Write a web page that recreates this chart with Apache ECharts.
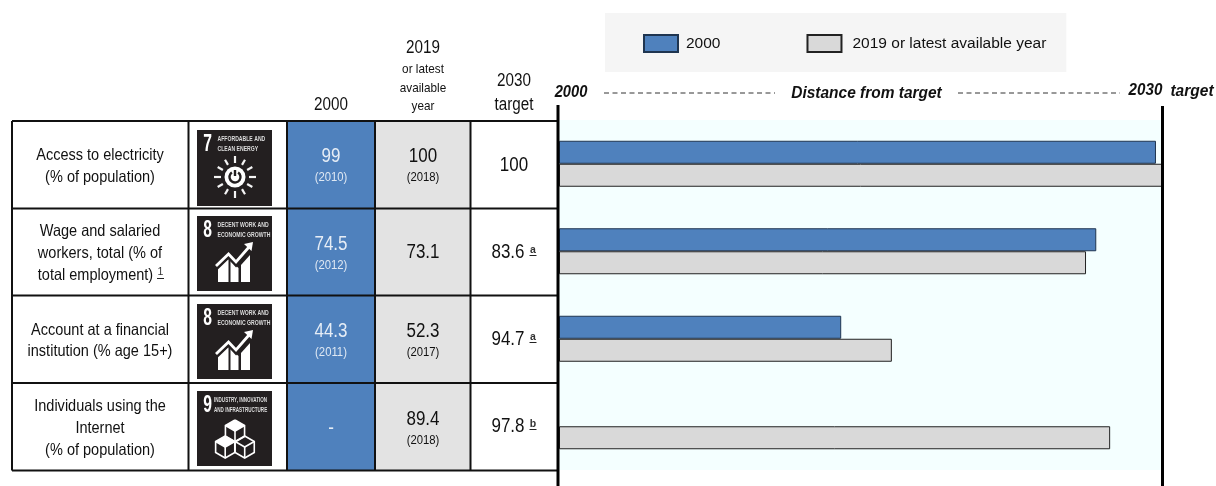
<!DOCTYPE html>
<html><head><meta charset="utf-8">
<style>html,body{margin:0;padding:0;background:#fff}#c{width:1216px;height:486px}</style>
<script src="https://cdn.jsdelivr.net/npm/echarts@6/dist/echarts.min.js"></script>
</head><body><div id="c"></div>
<script>
// ---- data ----
const indicators = [
  ['Access to electricity','(% of population)'],
  ['Wage and salaried','workers, total (% of','total employment)'],
  ['Account at a financial','institution (% age 15+)'],
  ['Individuals using the','Internet','(% of population)']
];
const categories = ['Access to electricity','Wage and salaried workers','Account at a financial institution','Individuals using the Internet'];
const values2000 = ['99','74.5','44.3','-'];
const years2000 = ['(2010)','(2012)','(2011)',''];
const valuesLatest = ['100','73.1','52.3','89.4'];
const yearsLatest = ['(2018)','','(2017)','(2018)'];
const targets = ['100','83.6','94.7','97.8'];
const targetNotes = ['','a','a','b'];
const distance2000 = [99, 89.1, 46.8, null];
const distanceLatest = [100, 87.4, 55.2, 91.4];
const goalNumbers = ['7','8','8','9'];
const goalTitles = [['AFFORDABLE AND','CLEAN ENERGY'],['DECENT WORK AND','ECONOMIC GROWTH'],['DECENT WORK AND','ECONOMIC GROWTH'],['INDUSTRY, INNOVATION','AND INFRASTRUCTURE']];
const goalIcons = ['sun','growth','growth','cubes'];
const seriesNames = ['2000','2019 or latest available year'];

// ---- layout ----
const FONT = '"Liberation Sans", Arial, sans-serif';
const colX = [12, 188.5, 287, 375, 470.5, 558];
const rowY = [121, 208.5, 295.5, 383, 470.5];
const iconTop = [130, 216, 304, 391];
const BLUE = '#4f81bd', GREY = '#e3e3e3', INK = '#111';
const g = [];
const text = (t, x, y, size, o={}) => g.push({type:'text', x, y, z:10, scaleX:o.sx||1, silent:true, style:{
  text:t, x:0, y:0, fontSize:size, fontFamily:FONT, fontWeight:o.w||'normal', fontStyle:o.i?'italic':'normal',
  fill:o.c||'#111', align:o.a||'center', verticalAlign:'middle'}});
const line = (x1,y1,x2,y2,w,c,dash,z) => g.push({type:'line', z:z||8, silent:true,
  shape:{x1,y1,x2,y2}, style:{stroke:c||INK, lineWidth:w, lineDash:dash||null}});
const rect = (x,y,w,h,fill,z) => g.push({type:'rect', z:z||5, silent:true, shape:{x,y,width:w,height:h}, style:{fill}});
const poly = (pts,o) => g.push({type:o.fill?'polygon':'polyline', z:12, silent:true, shape:{points:pts},
  style:{fill:o.fill||null, stroke:o.stroke||null, lineWidth:o.w||1, lineJoin:'miter'}});

// coloured columns
rect(colX[2],rowY[0],colX[3]-colX[2],rowY[4]-rowY[0],BLUE);
rect(colX[3],rowY[0],colX[4]-colX[3],rowY[4]-rowY[0],GREY);
// table rules
rowY.forEach(y => line(colX[0],y,colX[5],y,2,INK));
colX.slice(0,5).forEach(x => line(x,rowY[0],x,rowY[4],2,INK));
// axis end rules
line(558,105,558,486,3,'#000');
line(1162.5,106,1162.5,486,3,'#000');

// column headers
const HEAD = {sx:.87};
text('2000',331,105,17.5,HEAD);
text('2019',423,48,17.5,HEAD);
text('or latest',423,69,13.5,HEAD);
text('available',423,88,13.5,HEAD);
text('year',423,106,13.5,HEAD);
text('2030',514,81,17.5,HEAD);
text('target',514,105,17.5,HEAD);
// distance header
text('2000',571,93,16,{w:'bold',i:1,sx:.92});
line(604,93,775,93,1,'#333',[5,3.5]);
text('Distance from target',866.5,93,17,{w:'bold',i:1,sx:.91});
line(958,93,1120,93,1,'#333',[5,3.5]);
text('2030',1145.5,90,16.5,{w:'bold',i:1,sx:.92});
text('target',1192,91,16.5,{w:'bold',i:1,sx:.94});

// rows
const indicatorY = [[155,177],[231,253,275],[330,351],[406,428,450]];
const valY = [[157,177],[245,265],[332,352],[429,0]];
const latY = [[157,177],[253,0],[332,352],[420,440]];
const tgtY = [166,253,340,427];
indicators.forEach((lines,r) => {
  lines.forEach((l,i) => text(l,(r===1&&i===2)?95.5:100,indicatorY[r][i],16.5,{sx:.88}));
  text(values2000[r],331,valY[r][0],19.5,{c:'#e6edf6',sx:.87});
  if (years2000[r]) text(years2000[r],331,valY[r][1],13,{c:'#dfe8f3',sx:.87});
  text(valuesLatest[r],423,latY[r][0],19.5,{sx:.87});
  if (yearsLatest[r]) text(yearsLatest[r],423,latY[r][1],13,{sx:.87});
  if (targetNotes[r]) {
    text(targets[r],508,tgtY[r],19.5,{sx:.87});
    text(targetNotes[r],533,tgtY[r]-3,10.5,{w:'bold',c:'#333'});
    line(529.5,tgtY[r]+2.5,536.5,tgtY[r]+2.5,1,'#222');
  } else text(targets[r],514,tgtY[r],19.5,{sx:.87});
});
// footnote marker
text('1',160.5,272,10.5,{c:'#333'});
line(157,278.5,164,278.5,1,'#222');

// goal tiles
function tile(r){
  const X=197, Y=iconTop[r], W='#fff';
  rect(X,Y,75,r===0?76:75,'#231f20',9);
  text(goalNumbers[r],X+10.5,Y+15,23,{w:'bold',c:'#fff',sx:.68});
  const long = r===3;
  const tx = long?X+17:X+20.5;
  goalTitles[r].forEach((s,i)=>{
    text(s,tx,Y+9+i*9.3,8,{w:'bold',c:'#dcdcdc',a:'left',sx:long?.57:.64});
  });
  const P=(a,b)=>[X+a,Y+b];
  if (goalIcons[r]==='sun'){
    const cx=38, cy=47;
    for(let i=0;i<12;i++){
      const a=i*Math.PI/6, r1=14, r2=i%3===0?21:20;
      line(X+cx+r1*Math.sin(a),Y+cy-r1*Math.cos(a),X+cx+r2*Math.sin(a),Y+cy-r2*Math.cos(a),2.2,'#f4f4f4',null,12);
    }
    g.push({type:'circle',z:12,silent:true,shape:{cx:X+cx,cy:Y+cy,r:10.5},style:{fill:'#fff'}});
    g.push({type:'arc',z:13,silent:true,shape:{cx:X+cx,cy:Y+cy,r:5.5,startAngle:-Math.PI/2+0.6,endAngle:-Math.PI/2-0.6,clockwise:true},style:{stroke:'#231f20',fill:null,lineWidth:2.4}});
    line(X+cx,Y+cy-7,X+cx,Y+cy-1,2.4,'#231f20',null,13);
  } else if (goalIcons[r]==='growth'){
    poly([P(21,66),P(21,51),P(31.5,43),P(31.5,66)],{fill:W});
    poly([P(33.5,66),P(33.5,45),P(41.5,52),P(41.5,66)],{fill:W});
    poly([P(44,66),P(44,49),P(53,39),P(53,66)],{fill:W});
    poly([P(19,51),P(31.5,39),P(39,47),P(52,32)],{stroke:'#231f20',w:6});
    poly([P(19,50),P(31.5,38),P(39,46),P(52,31)],{stroke:W,w:2.8});
    poly([P(47,28),P(56,26),P(54.5,35)],{fill:W});
  } else {
    const cube=(a,b,s,fillTop)=>{
      const hx=s*.87;
      if(fillTop) poly([P(a,b-s),P(a+hx,b-s/2),P(a,b),P(a-hx,b-s/2)],{fill:W});
      poly([P(a,b-s),P(a+hx,b-s/2),P(a+hx,b+s/2),P(a,b+s),P(a-hx,b+s/2),P(a-hx,b-s/2),P(a,b-s)],{stroke:W,w:1.6});
      poly([P(a-hx,b-s/2),P(a,b),P(a+hx,b-s/2)],{stroke:W,w:1.6});
      poly([P(a,b),P(a,b+s)],{stroke:W,w:1.6});
    };
    cube(38,40,11,true); cube(28.2,56,11,true); cube(47.7,56,11,false);
  }
}
[0,1,2,3].forEach(tile);

const chart = echarts.init(document.getElementById('c'), null, {renderer:'canvas'});
chart.setOption({
  animation:false,
  backgroundColor:'#fff',
  textStyle:{fontFamily:FONT},
  legend:{
    left:605, top:13, padding:[21,20,19,38], itemGap:86, itemWidth:34, itemHeight:17, icon:'rect',
    backgroundColor:'#f5f5f5', selectedMode:false,
    textStyle:{fontSize:15.5, color:'#111', fontFamily:FONT},
    data:[
      {name:seriesNames[0], textStyle:{padding:[0,0,0,3]}},
      {name:seriesNames[1], textStyle:{padding:[0,0,0,6]}}
    ]
  },
  grid:{left:559,width:603,top:120,height:350,show:true,backgroundColor:'#f4ffff',borderWidth:0},
  xAxis:{type:'value',min:0,max:100,show:false},
  yAxis:{type:'category',inverse:true,data:categories,show:false},
  series:[
    {name:seriesNames[0],type:'bar',data:distance2000,barWidth:23,barGap:0,
     itemStyle:{color:'#4f81bd',borderColor:'#1f3550',borderWidth:1}},
    {name:seriesNames[1],type:'bar',data:distanceLatest,barWidth:23,
     itemStyle:{color:'#d9d9d9',borderColor:'#222',borderWidth:1}}
  ],
  graphic:g
});
</script></body></html>
